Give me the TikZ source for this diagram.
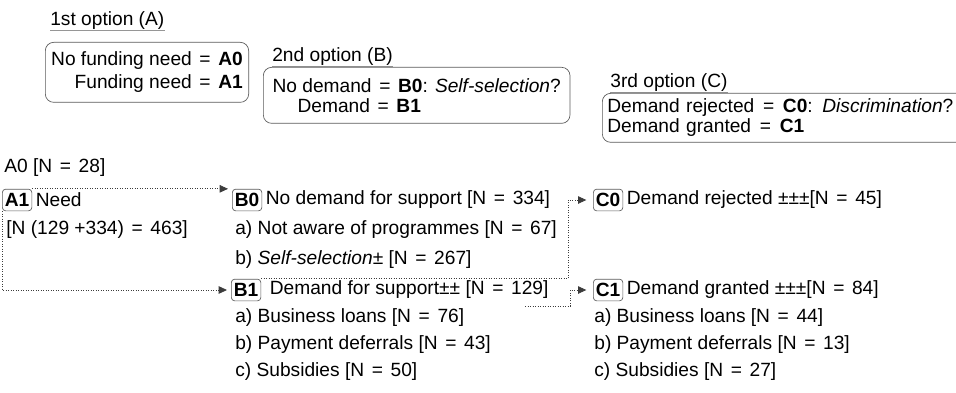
\documentclass[tikz,border=0pt]{standalone}
\usepackage{fontspec}
\setmainfont{Liberation Sans}
\usetikzlibrary{arrows.meta,positioning,calc}
\definecolor{boxc}{RGB}{90,90,90}
\definecolor{linkc}{RGB}{60,60,60}
\definecolor{rulec}{RGB}{150,150,150}
\newcommand{\eqs}{\ \hspace{0.12em}=\hspace{0.12em}\ }

\begin{document}
\begin{tikzpicture}[x=0.6pt,y=-0.6pt,
  font=\fontsize{11.5}{12}\selectfont,
  txt/.style={anchor=west,inner sep=0pt},
  tag/.style={draw=boxc,rounded corners=2pt,inner xsep=1.5pt,inner ysep=0pt,
    minimum height=13pt,anchor=west,font=\fontsize{11.5}{12}\selectfont\bfseries},
  optbox/.style={draw=boxc,rounded corners=5pt,anchor=north west},
  uline/.style={rulec,line width=0.8pt},
  link/.style={linkc,densely dotted,line width=0.5pt,
    -{Triangle[length=5pt,width=4.5pt]},shorten >=2.4pt}]
\useasboundingbox (0,0) rectangle (956,393);
% the three options
\node[txt] (opta) at (50,21) {1st option (A)};
\draw[uline] (opta.south west) -- (opta.south east);
\node[optbox,align=right,minimum width=122pt,minimum height=36pt,
  font=\fontsize{11.5}{13.8}\selectfont] (boxa) at (45,42)
  {No funding need\eqs{}\textbf{A0}\\Funding need\eqs{}\textbf{A1}};
\node[txt] (optb) at (272,57) {2nd option (B)};
\draw[uline] (optb.south west) -- (optb.south east);
\node[optbox,align=left,minimum width=184pt,minimum height=33.6pt] (boxb) at (263,67)
  {No demand\eqs{}\textbf{B0}: \textit{Self-selection}?\\\hspace*{15pt}Demand\eqs{}\textbf{B1}};
\node[txt] (optc) at (610,83) {3rd option (C)};
\draw[uline] (optc.south west) -- (optc.south east);
\node[optbox,align=left,inner xsep=3pt,text width=262pt,minimum height=28.8pt] (boxc) at (602,93)
  {Demand rejected\eqs{}\textbf{C0}: \textit{Discrimination}?\\Demand granted\eqs{}\textbf{C1}};
% A
\node[txt] (a0) at (4,168) {A0 [N\eqs{}28]};
\node[tag] (a1) at (2,200) {A1};
\node[txt,right=2pt of a1] (a1txt) {Need};
\node[txt] (a1n) at (6,230) {[N (129 +334)\eqs{}463]};
% B
\node[tag] (b0) at (232,200) {B0};
\node[txt,right=2pt of b0] (b0txt) {No demand for support [N\eqs{}334]};
\node[txt] (b0a) at (235,230) {a) Not aware of programmes [N\eqs{}67]};
\node[txt] (b0b) at (235,260) {b) \textit{Self-selection}± [N\eqs{}267]};
\node[tag] (b1) at (231,290) {B1};
\node[txt,right=5pt of b1] (b1txt) {Demand for support±± [N\eqs{}129]};
\node[txt] (b1a) at (235,318) {a) Business loans [N\eqs{}76]};
\node[txt] (b1b) at (235,345) {b) Payment deferrals [N\eqs{}43]};
\node[txt] (b1c) at (235,372) {c) Subsidies [N\eqs{}50]};
% C
\node[tag] (c0) at (593,200) {C0};
\node[txt,right=2pt of c0] (c0txt) {Demand rejected ±±±[N\eqs{}45]};
\node[tag] (c1) at (593,290) {C1};
\node[txt,right=2pt of c1] (c1txt) {Demand granted ±±±[N\eqs{}84]};
\node[txt] (c1a) at (594,318) {a) Business loans [N\eqs{}44]};
\node[txt] (c1b) at (594,345) {b) Payment deferrals [N\eqs{}13]};
\node[txt] (c1c) at (594,372) {c) Subsidies [N\eqs{}27]};
% links
\draw[link] (a1.north east) -- (b0.north west);
\draw[link] (a1.south west) |- (b1.west);
\draw[link,shorten >=4pt] (b1.north east) -| ($(c0.west)+(-25,0)$) -- (c0.west);
\coordinate (b1tail) at (525,306);
\draw[link,shorten >=4pt] (b1tail) -| ($(c1.west)+(-23,0)$) -- (c1.west);
\end{tikzpicture}
\end{document}
